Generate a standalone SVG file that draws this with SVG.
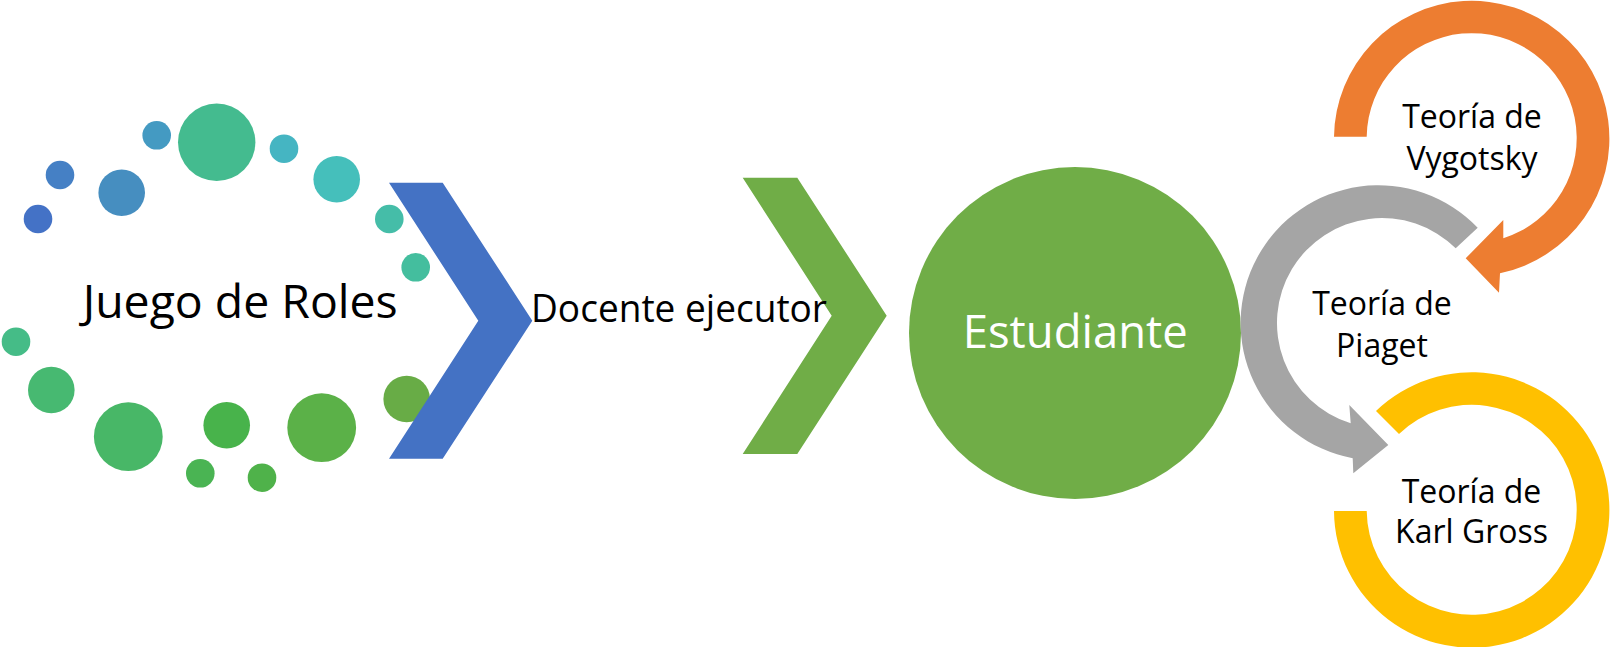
<svg xmlns="http://www.w3.org/2000/svg" width="1612" height="647" viewBox="0 0 1612 647">
<style>
  text { font-family: "Open Sans", "Noto Sans", "Liberation Sans", sans-serif; fill: #000; }
  .big { font-size: 46px; }
  .mid { font-size: 37.5px; }
  .small { font-size: 32px; text-anchor: middle; }
  .white { fill: #FFFFFF; }
</style>
<rect x="0" y="0" width="1612" height="647" fill="#FFFFFF"/>

<g id="node-juego-de-roles">
  <circle cx="216.7" cy="142.3" r="38.7" fill="#44BB8F"/>
  <circle cx="156.7" cy="135.3" r="14.3" fill="#449AC2"/>
  <circle cx="284" cy="148.7" r="14.3" fill="#45B5C2"/>
  <circle cx="60" cy="175" r="14.3" fill="#4580C5"/>
  <circle cx="121.7" cy="192.7" r="23.3" fill="#468EC0"/>
  <circle cx="336.7" cy="179.3" r="23.3" fill="#45BFBB"/>
  <circle cx="38" cy="219" r="14.3" fill="#4472C6"/>
  <circle cx="389.3" cy="219" r="14.3" fill="#45BDA8"/>
  <circle cx="415.7" cy="267.3" r="14.3" fill="#44BE9E"/>
  <circle cx="16" cy="341.7" r="14.3" fill="#45BC87"/>
  <circle cx="51.3" cy="390" r="23.3" fill="#47B971"/>
  <circle cx="128.3" cy="436.7" r="34.4" fill="#48B767"/>
  <circle cx="226.7" cy="425.3" r="23.3" fill="#48B34B"/>
  <circle cx="321.7" cy="427.7" r="34.4" fill="#5BB148"/>
  <circle cx="406.7" cy="399" r="23.3" fill="#68AC46"/>
  <circle cx="200.3" cy="473.3" r="14.3" fill="#4AB453"/>
  <circle cx="262" cy="477.7" r="14.3" fill="#4FB24A"/>
  <text class="big" x="82.7" y="318.3" textLength="315" lengthAdjust="spacingAndGlyphs">Juego de Roles</text>
</g>

<g id="connectors">
  <polygon id="chevron-blue" points="389,182.7 442.7,182.7 532.3,320.7 442.7,458.7 389,458.7 478.3,320.7" fill="#4472C4"/>
  <polygon id="chevron-green" points="742.7,177.7 797.3,177.7 886.7,315.7 797.3,454 742.7,454 831.7,315.7" fill="#70AD47"/>
</g>

<g id="node-docente-ejecutor">
  <text class="mid" x="531" y="322.3" textLength="296" lengthAdjust="spacingAndGlyphs">Docente ejecutor</text>
</g>

<g id="node-estudiante">
  <circle cx="1075" cy="333" r="166" fill="#70AD47"/>
  <text class="big white" x="962.7" y="348.3" textLength="225" lengthAdjust="spacingAndGlyphs">Estudiante</text>
</g>

<g id="node-vygotsky">
  <path d="M 1334,136.7 A 137.7 137.7 0 1 1 1500,273.3 L 1499,292.7 L 1465.7,258.3 L 1503.3,220 L 1503.3,238.3 A 105 105 0 1 0 1366.7,136.7 Z" fill="#ED7D31"/>
  <text class="small" x="1472" y="127.7">Teoría de</text>
  <text class="small" x="1472" y="170">Vygotsky</text>
</g>

<g id="node-piaget">
  <path d="M 1477.7,227.7 A 137.7 137.7 0 1 0 1352.7,458.3 L 1353.3,473.3 L 1388.3,445 L 1349.3,405 L 1350.7,423.3 A 105 105 0 1 1 1455.7,248.3 Z" fill="#A5A5A5"/>
  <text class="small" x="1382" y="315">Teoría de</text>
  <text class="small" x="1382" y="356.7">Piaget</text>
</g>

<g id="node-karl-gross">
  <path d="M 1376,411 A 137.7 137.7 0 1 1 1334,511 L 1366.7,511 A 105 105 0 1 0 1399,434 Z" fill="#FFC000"/>
  <text class="small" x="1471.5" y="502.7">Teoría de</text>
  <text class="small" x="1471.5" y="543.3">Karl Gross</text>
</g>
</svg>
